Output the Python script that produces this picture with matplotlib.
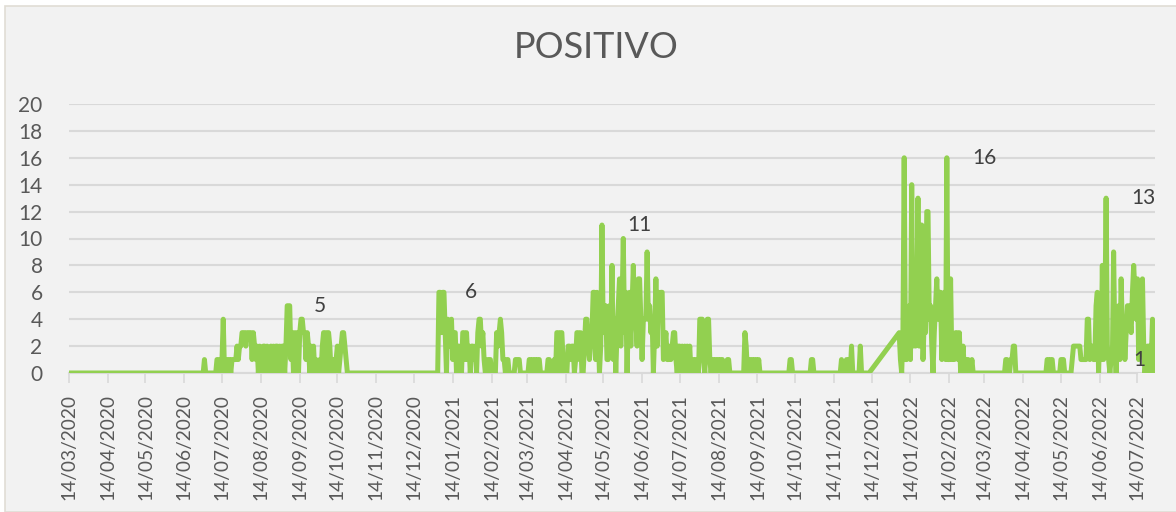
import matplotlib
matplotlib.use('Agg')
import matplotlib.pyplot as plt
import matplotlib.dates as mdates
import pandas as pd
from matplotlib.patches import Rectangle

plt.rcParams['font.family'] = ['Lato', 'DejaVu Sans']

# daily counts, one list per active stretch; the line joins stretches
first_day = '2020-03-14'
first_vals = [0]

summer_2020_start = '2020-06-22'
summer_2020 = [0, 0, 0, 0, 0, 0, 0, 0,
               1,
               0, 0, 0, 0, 0, 0, 0, 0, 0,
               1, 1, 0, 1, 1, 4, 0, 1, 0, 1, 1, 0, 1, 1,
               1, 1, 2, 1, 2, 2, 3, 3, 3, 2, 3, 3, 3, 3, 1, 3, 2, 1, 2,
               0, 2, 0, 1, 2, 2, 0, 2, 0, 1, 2, 0, 2, 0, 2, 2, 0, 2, 0, 2,
               2, 0, 2, 5, 5, 5, 1, 3, 0, 3, 2, 3, 0, 3, 4, 4, 3, 3, 1, 3,
               2, 0, 2, 0, 2, 0, 1, 0, 0, 1, 0, 2, 3, 3, 0, 3, 3, 2, 0, 0,
               1, 0, 1, 2, 0, 1, 2, 3, 3, 2, 1, 0, 0]

winter_2021_start = '2020-12-29'
winter_2021 = [0, 0, 0, 0, 0,
               6, 6, 3, 6, 6, 3,
               0, 4, 2, 3, 4, 1, 3, 3, 0, 2,
               2, 1, 0, 3, 3, 1, 3, 1, 2, 0,
               2, 2, 1, 2, 0, 3, 4, 4, 2, 3,
               1, 0, 0, 1, 1, 1, 0, 0, 0, 0,
               3, 2, 3, 4, 3, 1, 1, 0, 1, 1,
               0, 0, 0, 0, 0, 1, 1, 1, 1, 0,
               0, 0, 0, 0, 0, 0, 1, 1, 0, 1,
               1, 1, 0, 1, 1, 0, 0, 0, 0, 0,
               0, 1, 1, 0, 0, 0, 1, 0]

spring_2021_start = '2021-04-07'
spring_2021 = [3, 3, 0, 3, 3, 1, 0, 0, 0, 2, 2, 1,
               2, 2, 0, 1, 3, 3, 1, 3, 0, 0,
               2, 4, 4, 2, 1, 2, 3, 6, 6, 1,
               6, 3, 0, 2, 11, 3, 5, 5, 1, 1,
               5, 2, 8, 1, 4, 0, 3, 5, 7, 2,
               5, 10, 3, 6, 0, 4, 6, 2, 5, 8,
               4, 4, 2, 7, 7, 4, 1, 4, 4, 4,
               9, 4, 5, 3, 4, 0, 3, 7, 2, 6,
               5, 6, 6, 1, 2, 3, 1, 1, 2, 1,
               2, 3, 3, 1, 0, 2, 2, 0, 2, 1,
               2, 0, 2, 1, 2, 0, 1, 1, 0, 1,
               1, 0, 4, 4, 4, 1, 0, 2, 4, 4,
               1, 0, 1, 1, 0, 1, 1, 1, 0, 1,
               1, 0, 0, 0, 1, 1, 0, 0]

sep_2021_start = '2021-09-03'
sep_2021 = [0, 3, 2, 0, 1, 0, 1, 1, 0, 1, 1, 0, 1, 0, 0]

oct_2021_start = '2021-10-09'
oct_2021 = [0, 1, 1, 0, 0]

late_oct_2021_start = '2021-10-25'
late_oct_2021 = [0, 0, 1, 1, 0]

nov_2021_start = '2021-11-18'
nov_2021 = [0, 0, 1, 0, 0, 0, 1, 0, 1, 0, 2, 0, 0, 0, 0, 0, 0,
            2, 0, 0, 0, 0, 0, 0, 0]

winter_2022_start = '2022-01-05'
winter_2022 = [3, 1, 0, 3, 16, 1, 1, 2, 5, 1,
               14, 2, 6, 2, 5, 13, 2, 11, 11, 1,
               4, 3, 12, 12, 4, 5, 2, 0, 3, 5,
               7, 4, 6, 6, 1, 4, 6, 1, 16, 1,
               1, 7, 1, 2, 1, 3, 3, 1, 3, 0,
               1, 2, 0, 1, 1, 1, 0, 0, 1, 0, 0, 0]

mar_2022_start = '2022-03-28'
mar_2022 = [0, 0, 0, 1, 1, 0, 0, 1, 1, 2, 2, 0, 0, 0, 0]

summer_2022_start = '2022-05-01'
summer_2022 = [0, 0, 1, 1, 0, 1, 1, 0, 0, 0,
               0, 0, 0, 1, 1, 1, 0, 0, 0, 0,
               0, 0, 1, 2, 2, 2, 2, 2, 2, 1,
               1, 1, 1, 1, 4, 4, 1, 2, 2, 1,
               1, 5, 6, 0, 3, 1, 8, 1, 4, 13,
               2, 1, 0, 1, 1, 9, 2, 0, 3, 5,
               1, 7, 3, 4, 1, 3, 5, 5, 4, 3,
               6, 8, 6, 4, 7, 1, 2, 5, 7, 2,
               0, 1, 2, 2, 0, 1, 4, 1, 0]

# points that carry a data label
label_dates = ['2020-09-05', '2021-01-04', '2021-05-13',
               '2022-02-12', '2022-06-19', '2022-06-21']

tick_start = '2020-03-14'
tick_end = '2022-07-14'


def build_series():
    segments = [(first_day, first_vals),
                (summer_2020_start, summer_2020),
                (winter_2021_start, winter_2021),
                (spring_2021_start, spring_2021),
                (sep_2021_start, sep_2021),
                (oct_2021_start, oct_2021),
                (late_oct_2021_start, late_oct_2021),
                (nov_2021_start, nov_2021),
                (winter_2022_start, winter_2022),
                (mar_2022_start, mar_2022),
                (summer_2022_start, summer_2022)]
    dates = []
    values = []
    for start, vals in segments:
        dates.extend(pd.date_range(start, periods=len(vals), freq='D'))
        values.extend(vals)
    return pd.Series(values, index=pd.DatetimeIndex(dates))


def main():
    series = build_series()
    text_color = '#595959'
    grid_color = '#d9d9d9'

    W, H = 1176, 512
    fig = plt.figure(figsize=(W / 100, H / 100), dpi=100, facecolor='white')
    fig.patches.append(Rectangle((5 / W, 0), 1, 1 - 6 / H,
                                 transform=fig.transFigure,
                                 facecolor='#f2f2f2', edgecolor='#e0ddd5',
                                 linewidth=1.2, zorder=-10))

    x0 = pd.Timestamp(tick_start)
    x1 = series.index[-1]
    left, right = 69, 1155
    bottom, top = 373, 104
    ax = fig.add_axes([left / W, 1 - bottom / H,
                       (right - left) / W, (bottom - top) / H])
    ax.set_facecolor('none')

    ax.plot(series.index, series.values, color='#92d050', linewidth=3.6,
            solid_joinstyle='round', solid_capstyle='round', zorder=3)

    for d in label_dates:
        ts = pd.Timestamp(d)
        v = series[ts]
        ax.annotate(str(v), (ts, v), xytext=(25, 0),
                    textcoords='offset pixels', ha='left', va='center',
                    fontsize=15, color='#404040', zorder=4)

    ax.set_xlim(x0, x1)
    ax.set_ylim(0, 20)
    ax.set_yticks(range(0, 21, 2))
    ax.yaxis.grid(True, color=grid_color, linewidth=1.5)
    ax.set_axisbelow(True)

    ticks = pd.date_range(tick_start, tick_end,
                          freq=pd.DateOffset(months=1))
    ax.set_xticks(ticks)
    ax.set_xticklabels([t.strftime('%d/%m/%Y') for t in ticks],
                       rotation=90)
    ax.tick_params(axis='x', length=7, width=1.2, color=grid_color,
                   labelsize=13.8, labelcolor=text_color, pad=8)
    ax.tick_params(axis='y', length=0, labelsize=15,
                   labelcolor=text_color, pad=19)

    for side in ['left', 'right', 'top']:
        ax.spines[side].set_visible(False)
    ax.spines['bottom'].set_color(grid_color)
    ax.spines['bottom'].set_linewidth(1.5)
    ax.spines['bottom'].set_bounds(mdates.date2num(x0),
                                   mdates.date2num(pd.Timestamp(tick_end)))

    fig.text(596 / W, 1 - 48 / H, 'POSITIVO', ha='center', va='center',
             fontsize=26, color=text_color)

    fig.savefig('out.png', dpi=100, facecolor=fig.get_facecolor())


if __name__ == '__main__':
    main()
